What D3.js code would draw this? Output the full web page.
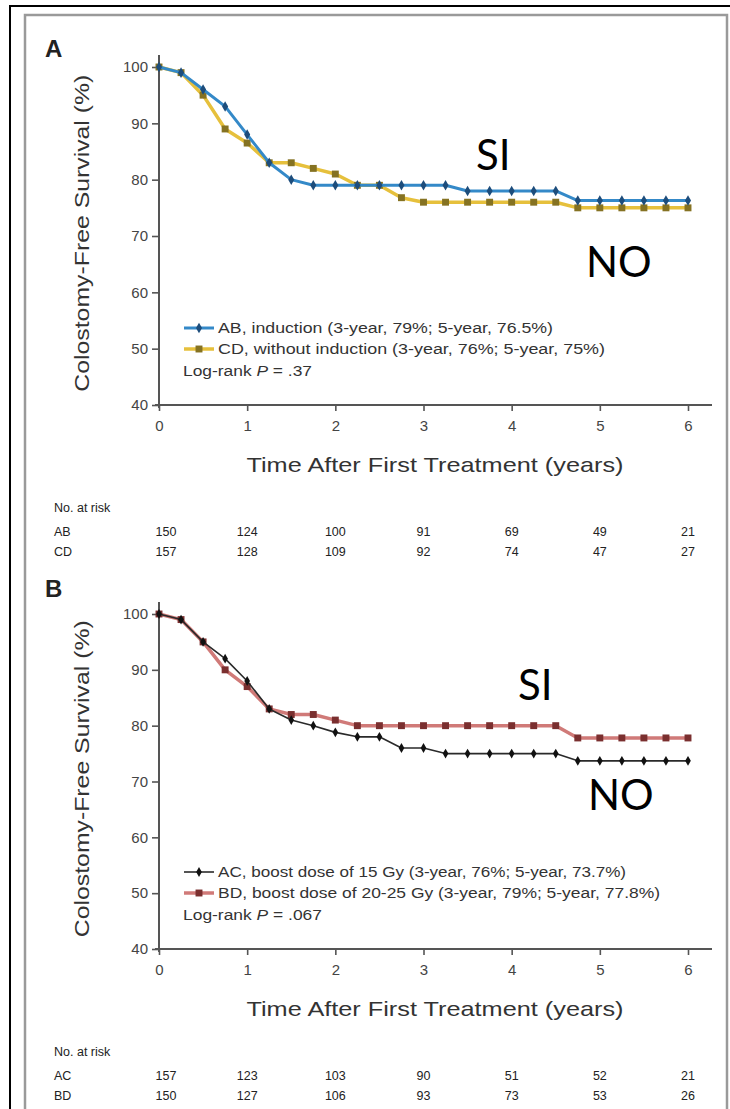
<!DOCTYPE html>
<html>
<head>
<meta charset="utf-8">
<script src="https://cdn.jsdelivr.net/npm/d3@7"></script>
<style>
body { margin: 0; background: #fff; }
svg { display: block; }
</style>
</head>
<body>
<svg id="chart"></svg>
<script>
// time points (years) where the curves are marked
var years = [0, 0.25, 0.5, 0.75, 1, 1.25, 1.5, 1.75, 2, 2.25, 2.5, 2.75, 3,
             3.25, 3.5, 3.75, 4, 4.25, 4.5, 4.75, 5, 5.25, 5.5, 5.75, 6];

// panel A: colostomy-free survival (%)
var survAB = [100, 99, 96, 93, 88, 83, 80, 79, 79, 79, 79, 79, 79,
              79, 78, 78, 78, 78, 78, 76.3, 76.3, 76.3, 76.3, 76.3, 76.3];
var survCD = [100, 99, 95, 89, 86.5, 83, 83, 82, 81, 79, 79, 76.8, 76,
              76, 76, 76, 76, 76, 76, 75, 75, 75, 75, 75, 75];

// panel B
var survAC = [100, 99, 95, 92, 88, 83, 81, 80, 78.8, 78, 78, 76, 76,
              75, 75, 75, 75, 75, 75, 73.7, 73.7, 73.7, 73.7, 73.7, 73.7];
var survBD = [100, 99, 95, 90, 87, 83, 82, 82, 81, 80, 80, 80, 80,
              80, 80, 80, 80, 80, 80, 77.8, 77.8, 77.8, 77.8, 77.8, 77.8];

var xTicks = [0, 1, 2, 3, 4, 5, 6];
var yTicks = [40, 50, 60, 70, 80, 90, 100];

// numbers at risk
var riskTimes = [0, 1, 2, 3, 4, 5, 6];
var riskAB = [150, 124, 100, 91, 69, 49, 21];
var riskCD = [157, 128, 109, 92, 74, 47, 27];
var riskAC = [157, 123, 103, 90, 51, 52, 21];
var riskBD = [150, 127, 106, 93, 73, 53, 26];

var width = 730, height = 1109;
var narrow = "'Liberation Sans Narrow', 'Liberation Sans', Arial, sans-serif";

var svg = d3.select("#chart").attr("width", width).attr("height", height);

// outer frame
svg.append("rect").attr("x", 10).attr("y", 6).attr("width", 740).attr("height", 1130)
   .attr("fill", "none").attr("stroke", "#000").attr("stroke-width", 2);
svg.append("rect").attr("x", 25).attr("y", 15).attr("width", 702).attr("height", 1120)
   .attr("fill", "none").attr("stroke", "#9a9a9a").attr("stroke-width", 2.5);

var x = d3.scaleLinear().domain([0, 6]).range([159, 688]);

var panels = [
  {
    letter: "A", letterY: 57, y100: 67, y40: 405,
    series: [
      {name: "AB", values: survAB, line: "#3489c8", mark: "#1d4d7c", shape: d3.symbolDiamond, size: 32, lw: 3,
       label: "AB, induction (3-year, 79%; 5-year, 76.5%)", len: 335},
      {name: "CD", values: survCD, line: "#e6c03c", mark: "#857222", shape: d3.symbolSquare, size: 48, lw: 3.5,
       label: "CD, without induction (3-year, 76%; 5-year, 75%)", len: 387}
    ],
    logrank: ".37", logLen: 129,
    risk: [{name: "AB", values: riskAB}, {name: "CD", values: riskCD}],
    si: [476, 170], no: [586, 277]
  },
  {
    letter: "B", letterY: 597, y100: 614, y40: 949,
    series: [
      {name: "AC", values: survAC, line: "#2a2a2a", mark: "#111", shape: d3.symbolDiamond, size: 28, lw: 1.6,
       label: "AC, boost dose of 15 Gy (3-year, 76%; 5-year, 73.7%)", len: 408},
      {name: "BD", values: survBD, line: "#d07a78", mark: "#7a2f2f", shape: d3.symbolSquare, size: 48, lw: 3.5,
       label: "BD, boost dose of 20-25 Gy (3-year, 79%; 5-year, 77.8%)", len: 442}
    ],
    logrank: ".067", logLen: 139,
    risk: [{name: "AC", values: riskAC}, {name: "BD", values: riskBD}],
    si: [518, 700], no: [588, 810]
  }
];

panels.forEach(function(p) {
  var y = d3.scaleLinear().domain([40, 100]).range([p.y40, p.y100]);
  var g = svg.append("g");

  g.append("text").attr("x", 45).attr("y", p.letterY)
   .style("font-family", "'Liberation Sans', Arial, sans-serif")
   .style("font-size", "24px").style("font-weight", "bold").attr("fill", "#222")
   .text(p.letter);

  // axes
  var yAxis = g.append("g").attr("transform", "translate(" + x(0) + ",0)")
    .call(d3.axisLeft(y).tickValues(yTicks).tickSize(7).tickPadding(4).tickSizeOuter(0));
  var xAxis = g.append("g").attr("transform", "translate(0," + p.y40 + ")")
    .call(d3.axisBottom(x).tickValues(xTicks).tickFormat(d3.format("d"))
            .tickSize(6).tickPadding(9).tickSizeOuter(0));
  [yAxis, xAxis].forEach(function(a) {
    a.select(".domain").remove();
    a.selectAll(".tick line").attr("stroke", "#555").attr("stroke-width", 1.6);
    a.selectAll(".tick text").attr("fill", "#444")
     .style("font-family", narrow).style("font-size", "15px");
  });
  g.append("line").attr("x1", x(0)).attr("x2", x(0)).attr("y1", y(100) - 12).attr("y2", p.y40 + 3)
   .attr("stroke", "#555").attr("stroke-width", 2);
  g.append("line").attr("x1", x(0) - 4).attr("x2", 712).attr("y1", p.y40).attr("y2", p.y40)
   .attr("stroke", "#555").attr("stroke-width", 2);

  // axis titles
  g.append("text").attr("transform", "translate(89," + y(70.5) + ") rotate(-90)")
   .attr("text-anchor", "middle").attr("fill", "#333")
   .attr("textLength", 317).attr("lengthAdjust", "spacingAndGlyphs")
   .style("font-family", narrow).style("font-size", "21px")
   .text("Colostomy-Free Survival (%)");
  g.append("text").attr("x", 435).attr("y", p.y40 + 67)
   .attr("text-anchor", "middle").attr("fill", "#333")
   .attr("textLength", 377).attr("lengthAdjust", "spacingAndGlyphs")
   .style("font-family", narrow).style("font-size", "21px")
   .text("Time After First Treatment (years)");

  // curves (drawn last series first so the first sits on top where they overlap)
  var line = d3.line().x(function(d, i) { return x(years[i]); }).y(function(d) { return y(d); });
  p.series.slice().reverse().forEach(function(s) {
    g.append("path").datum(s.values).attr("d", line)
     .attr("fill", "none").attr("stroke", s.line).attr("stroke-width", s.lw)
     .attr("stroke-linejoin", "round");
    g.selectAll(null).data(s.values).enter().append("path")
     .attr("d", d3.symbol().type(s.shape).size(s.size))
     .attr("transform", function(d, i) { return "translate(" + x(years[i]) + "," + y(d) + ")"; })
     .attr("fill", s.mark);
  });

  // legend
  var legY = [p.y40 - 77, p.y40 - 56];
  p.series.forEach(function(s, i) {
    var ly = legY[i];
    g.append("line").attr("x1", 184).attr("x2", 214).attr("y1", ly).attr("y2", ly)
     .attr("stroke", s.line).attr("stroke-width", s.lw);
    g.append("path").attr("d", d3.symbol().type(s.shape).size(s.size))
     .attr("transform", "translate(199," + ly + ")").attr("fill", s.mark);
    g.append("text").attr("x", 218).attr("y", ly + 5).attr("fill", "#333")
     .attr("textLength", s.len).attr("lengthAdjust", "spacingAndGlyphs")
     .style("font-family", narrow).style("font-size", "14px")
     .text(s.label);
  });
  var lr = g.append("text").attr("x", 183).attr("y", p.y40 - 29).attr("fill", "#333")
   .attr("textLength", p.logLen).attr("lengthAdjust", "spacingAndGlyphs")
   .style("font-family", narrow).style("font-size", "14px");
  lr.append("tspan").text("Log-rank ");
  lr.append("tspan").style("font-style", "italic").text("P");
  lr.append("tspan").text(" = " + p.logrank);

  // SI / NO annotations
  [["SI", p.si], ["NO", p.no]].forEach(function(a) {
    g.append("text").attr("x", a[1][0]).attr("y", a[1][1]).attr("fill", "#000")
     .style("font-family", "Lato, 'Open Sans', sans-serif").style("font-size", "42px")
     .text(a[0]);
  });

  // numbers at risk table
  g.append("text").attr("x", 54).attr("y", p.y40 + 107).attr("fill", "#222")
   .style("font-family", narrow).style("font-size", "12.5px").text("No. at risk");
  p.risk.forEach(function(r, j) {
    var ry = p.y40 + 131 + j * 20;
    g.append("text").attr("x", 54).attr("y", ry).attr("fill", "#222")
     .style("font-family", narrow).style("font-size", "12.5px").text(r.name);
    g.selectAll(null).data(r.values).enter().append("text")
     .attr("x", function(d, i) { return x(riskTimes[i]) + (i === 0 ? 7 : 0); })
     .attr("y", ry).attr("text-anchor", "middle").attr("fill", "#222")
     .style("font-family", narrow).style("font-size", "12.5px")
     .text(function(d) { return d; });
  });
});
</script>
</body>
</html>
